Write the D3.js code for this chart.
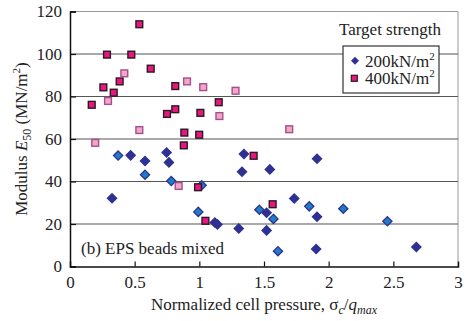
<!DOCTYPE html>
<html>
<head>
<meta charset="utf-8">
<script src="https://cdnjs.cloudflare.com/ajax/libs/d3/7.8.5/d3.min.js"></script>
<style>
  body { margin: 0; background: #fff; }
  svg text { font-family: "Liberation Serif", "Times New Roman", serif; fill: #222; }
</style>
</head>
<body>
<svg id="chart" width="468" height="321"></svg>
<script>
const xTicks = [0, 0.5, 1, 1.5, 2, 2.5, 3];
const yTicks = [0, 20, 40, 60, 80, 100, 120];

// 200 kN/m2 target strength (dark diamonds and light-centred diamonds)
const dia200DarkX = [0.469, 0.58, 0.747, 0.765, 0.325, 1.12, 1.14, 1.345, 1.33, 1.545, 1.91, 1.305, 1.52, 1.52, 1.734, 1.91, 1.903, 2.678];
const dia200DarkY = [52.3, 49.6, 53.6, 49.0, 32.1, 20.7, 19.8, 52.9, 44.6, 45.7, 50.7, 17.9, 25.3, 17.0, 32.0, 23.4, 8.2, 9.2];
const dia200LightX = [0.372, 0.58, 0.783, 0.992, 1.018, 1.464, 1.573, 1.85, 2.113, 2.454, 1.608];
const dia200LightY = [52.2, 43.2, 40.2, 25.7, 38.2, 26.7, 22.4, 28.3, 27.2, 21.3, 7.2];

// 400 kN/m2 target strength (dark squares and light squares)
const sq400DarkX = [0.536, 0.286, 0.474, 0.624, 0.384, 0.258, 0.814, 0.338, 0.168, 0.75, 0.814, 0.884, 1.008, 0.999, 0.88, 1.15, 1.42, 0.99, 1.047, 1.567];
const sq400DarkY = [114, 99.7, 99.7, 93.1, 87.1, 84.3, 84.9, 81.8, 76.1, 71.8, 74.0, 63.0, 72.3, 62.0, 57.0, 77.3, 52.1, 37.3, 21.5, 29.3];
const sq400LightX = [0.42, 0.905, 0.294, 0.536, 0.195, 1.03, 1.155, 1.28, 1.695, 0.84];
const sq400LightY = [90.9, 87.1, 77.9, 64.2, 58.2, 84.4, 70.8, 82.7, 64.6, 37.9];

const legendLabels = ["200kN/m", "400kN/m"];

const svg = d3.select("#chart");
const margin = { top: 11.5, right: 10, bottom: 54.5, left: 70 };
const width = 468 - margin.left - margin.right;
const height = 321 - margin.top - margin.bottom;

const g = svg.append("g").attr("transform", `translate(${margin.left},${margin.top})`);

const x = d3.scaleLinear().domain([0, 3]).range([0, width]);
const y = d3.scaleLinear().domain([0, 120]).range([height, 0]);

// frame (top and right lighter)
g.append("line").attr("x1", 0).attr("x2", width).attr("y1", 0).attr("y2", 0)
  .attr("stroke", "#999").attr("stroke-width", 1);
g.append("line").attr("x1", width).attr("x2", width).attr("y1", 0).attr("y2", height)
  .attr("stroke", "#999").attr("stroke-width", 1);

// gridlines
g.selectAll(".grid")
  .data(yTicks.filter((d) => d > 0 && d < 120))
  .join("line")
  .attr("class", "grid")
  .attr("x1", 0).attr("x2", width)
  .attr("y1", (d) => y(d)).attr("y2", (d) => y(d))
  .attr("stroke", "#555").attr("stroke-width", 1.2);

// axes
const xAxis = d3.axisBottom(x).tickValues(xTicks).tickSize(-5).tickPadding(9).tickFormat((d) => d3.format("")(d));
const yAxis = d3.axisLeft(y).tickValues(yTicks).tickSize(-6).tickPadding(8);

const gx = g.append("g").attr("transform", `translate(0,${height})`).call(xAxis);
const gy = g.append("g").call(yAxis);
[gx, gy].forEach((a) => {
  a.select(".domain").attr("stroke", "#111").attr("stroke-width", 1.5);
  a.selectAll(".tick line").attr("stroke", "#111").attr("stroke-width", 1.2);
  a.selectAll(".tick text").attr("font-size", 17).attr("fill", "#222")
    .style("font-family", '"Liberation Serif", "Times New Roman", serif');
});
gx.selectAll(".tick").filter((d) => d === 0 || d === 3).select("line").remove();

// markers
const diamond = (r) => `M0,${-r}L${r},0L0,${r}L${-r},0Z`;

function drawDiamonds(xs, ys, fill) {
  g.append("g").selectAll("path")
    .data(xs.map((d, i) => [d, ys[i]]))
    .join("path")
    .attr("d", diamond(4.6))
    .attr("transform", (d) => `translate(${x(d[0])},${y(d[1])})`)
    .attr("fill", fill)
    .attr("stroke", "#2e3192")
    .attr("stroke-width", 1.3);
}

function drawSquares(xs, ys, fill, stroke) {
  g.append("g").selectAll("rect")
    .data(xs.map((d, i) => [d, ys[i]]))
    .join("rect")
    .attr("x", (d) => x(d[0]) - 3.4)
    .attr("y", (d) => y(d[1]) - 3.4)
    .attr("width", 6.8).attr("height", 6.8)
    .attr("fill", fill)
    .attr("stroke", stroke)
    .attr("stroke-width", 1.4);
}

drawDiamonds(dia200DarkX, dia200DarkY, "#2e3192");
drawDiamonds(dia200LightX, dia200LightY, "#1f7dc2");
drawSquares(sq400DarkX, sq400DarkY, "#e8177f", "#2a1a22");
drawSquares(sq400LightX, sq400LightY, "#f3a6c6", "#a2508e");

// annotation
g.append("text").attr("x", 11).attr("y", 242.5).attr("font-size", 17)
  .text("(b) EPS beads mixed");

// legend
svg.append("text").attr("x", 339).attr("y", 35).attr("font-size", 17).text("Target strength");
const lg = svg.append("g").attr("transform", "translate(343,46)");
lg.append("rect").attr("width", 96).attr("height", 47)
  .attr("fill", "#fff").attr("stroke", "#333").attr("stroke-width", 1.2);
lg.append("path").attr("d", diamond(4)).attr("transform", "translate(12,14.7)")
  .attr("fill", "#2e3192");
lg.append("rect").attr("x", 8.3).attr("y", 29.3).attr("width", 6).attr("height", 6)
  .attr("fill", "#e8177f").attr("stroke", "#2a1a22").attr("stroke-width", 1.2);
legendLabels.forEach((t, i) => {
  const tx = lg.append("text").attr("x", 22).attr("y", 20.7 + i * 17.6).attr("font-size", 17).text(t);
  tx.append("tspan").attr("font-size", 11).attr("dy", -7).text("2");
});

// x label
const xl = svg.append("text").attr("x", margin.left + width / 2).attr("y", 310)
  .attr("text-anchor", "middle").attr("font-size", 17);
xl.append("tspan").text("Normalized cell pressure, σ");
xl.append("tspan").attr("font-size", 12).attr("font-style", "italic").attr("dy", 4).text("c");
xl.append("tspan").attr("dy", -4).text("/");
xl.append("tspan").attr("font-style", "italic").text("q");
xl.append("tspan").attr("font-size", 12).attr("font-style", "italic").attr("dy", 4).text("max");

// y label
const yl = svg.append("text")
  .attr("transform", `translate(27,${margin.top + height / 2}) rotate(-90)`)
  .attr("text-anchor", "middle").attr("font-size", 17);
yl.append("tspan").text("Modulus ");
yl.append("tspan").attr("font-style", "italic").text("E");
yl.append("tspan").attr("font-size", 12).attr("dy", 4).text("50");
yl.append("tspan").attr("dy", -4).text(" (MN/m");
yl.append("tspan").attr("font-size", 11).attr("dy", -7).text("2");
yl.append("tspan").attr("dy", 7).text(")");
</script>
</body>
</html>
